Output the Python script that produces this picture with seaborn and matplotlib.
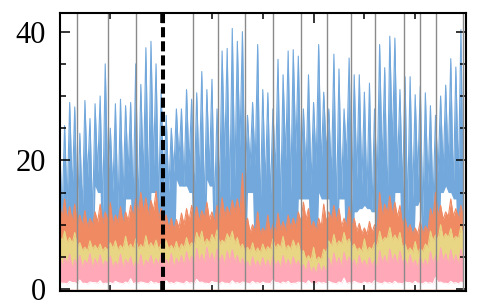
import numpy as np
import pandas as pd
import matplotlib
matplotlib.use("Agg")
import matplotlib.pyplot as plt
import seaborn as sns
from matplotlib.ticker import MultipleLocator

# ---- data ----
# time index: peaks at 100,110,...,890 ; troughs at 105,115,...,895
t_hi = list(range(100, 900, 10))
t_lo = list(range(105, 900, 10))

blue_hi = [24, 25.4, 29, 28.3, 24.2, 29.3, 26.5, 28.8, 30, 35,
           25, 28.8, 29.5, 28.5, 29, 35, 31.8, 37.5, 38.5, 35,
           31, 27, 25, 28, 28, 31, 29.5, 30.5, 33.8, 31,
           32.6, 28, 37, 37.4, 40.5, 38.5, 40, 27, 29, 38,
           31, 30.5, 28, 35.7, 33.3, 37, 37.2, 36.2, 28, 33.3,
           29, 38, 30.6, 28, 36.5, 34.2, 28, 35.9, 33.3, 33.3,
           30.6, 32, 28, 38, 34.4, 39.3, 39, 31, 33, 33,
           30.2, 31.5, 30.5, 28.5, 27, 30, 31.7, 35.8, 34.5, 40.3]
blue_lo = [11, 13, 15, 10, 12, 17, 11, 18, 12, 16,
           15, 12, 14, 18, 13, 12, 17, 14, 19, 13,
           16, 15, 18, 20, 16, 19, 14, 17, 13, 18,
           12, 15, 20, 14, 17, 22, 15, 19, 19, 12,
           16, 14, 18, 12, 20, 15, 21, 17, 18, 16,
           19, 19, 21, 17, 12, 15, 20, 13, 17, 16,
           14, 12, 16, 19, 13, 22, 18, 15, 12, 14,
           17, 11, 16, 13, 18, 18, 19, 15, 17, 11]
# lowest level the blue trace reaches around each peak (0 = hidden below the other traces)
blue_floor = [0, 0, 0, 0, 0, 0, 0, 16, 15, 0,
              0, 0, 0, 14, 14, 0, 0, 0, 15, 15,
              0, 0, 0, 17, 16, 16, 15, 0, 0, 17,
              16, 0, 0, 0, 0, 0, 0, 15, 15, 0,
              0, 0, 0, 0, 0, 0, 0, 14, 14, 14,
              0, 15, 14, 14, 0, 14, 14, 0, 12, 12.5,
              13, 12.5, 12, 0, 0, 0, 15, 15, 0, 0,
              13, 14, 0, 0, 0, 15, 16, 15, 14, 0]

orange_hi = [13.5, 14, 12.8, 13.2, 11.5, 12.2, 11, 12, 13.2, 12,
             13.4, 11.5, 12.8, 12, 13, 14, 15, 14.2, 13.8, 15.2,
             12.5, 11.5, 11, 10.8, 11.8, 12.5, 13, 12.8, 12.2, 13.5,
             12, 13, 14.2, 12.8, 13.8, 14, 18, 11, 10, 12,
             9.5, 11.5, 10, 11.8, 10.5, 11.5, 11, 12, 13.5, 12.5,
             10.5, 11, 13.2, 12, 13, 12.5, 11, 12.8, 11, 10.2,
             9.5, 10.5, 10, 15, 13.2, 14.5, 13.5, 13, 11, 10,
             9.5, 10.5, 9.8, 12.5, 15, 13, 12, 14, 12.5, 13]
orange_lo = [11, 10.8, 10.5, 10, 9.8, 9.6, 10, 10.4, 10.2, 10.6,
             10, 10.4, 10.1, 10.6, 11.2, 11.8, 12, 11.4, 12.2, 11,
             9.8, 9.4, 9.2, 9.5, 10, 10.6, 10.9, 10.5, 11, 10.8,
             10.4, 11, 11.3, 11.5, 12, 11.6, 9.8, 8.8, 8.9, 8.5,
             8.7, 8.6, 8.8, 9.2, 9, 9.4, 9.6, 10.4, 10.8, 9.5,
             9, 9.6, 10.4, 10.8, 10.5, 9.7, 9.8, 9.6, 9, 8.6,
             8.5, 8.8, 9.2, 11.4, 11.8, 11.6, 11.2, 9.9, 9, 8.5,
             8.6, 8.5, 9, 11, 11.4, 10.8, 11.2, 11.3, 10.9, 11]

yellow_hi = [8.5, 9, 8, 8.8, 7.2, 6.5, 7.5, 6.8, 7, 6.5,
             7.2, 7.5, 6.8, 8.2, 7, 7.8, 6.9, 8.3, 7.2, 7.6,
             7, 7.5, 6.8, 7.4, 7, 8, 7.2, 8.8, 9, 7.8,
             8.5, 9.2, 7.6, 8.6, 9, 8, 7, 6.5, 7.2, 6.4,
             7, 6.6, 7.8, 7, 8.2, 6.8, 7.6, 7.2, 6, 5.2,
             6.5, 5, 6.2, 7.5, 8.5, 7.5, 8.8, 7.8, 7, 6.4,
             7.8, 6.5, 7.2, 9, 8, 9.6, 8.4, 8.8, 7, 6.4,
             7.4, 6.3, 7, 9, 8.4, 10, 8.6, 9.4, 8.2, 9.8]
yellow_lo = [7.4, 7.2, 7.1, 6.6, 6, 5.9, 6.2, 6.1, 5.9, 6,
             6.3, 6, 6.2, 6.4, 6.1, 6.2, 6.3, 6.5, 6.4, 6.1,
             6, 6.2, 6.1, 6, 6.4, 6.6, 6.7, 7.6, 7, 7.1,
             7.5, 7, 7.2, 7.7, 7.1, 6.4, 5.9, 5.8, 5.7, 5.6,
             5.9, 6, 6.3, 6.4, 6.1, 6.2, 6.4, 5.4, 4.6, 4.4,
             4.4, 4.5, 5.6, 6.6, 6.8, 7, 7.2, 6.5, 6, 5.8,
             5.9, 6.1, 6.6, 7.4, 7.8, 7.6, 7.5, 6.4, 5.8, 5.7,
             5.6, 5.8, 6.5, 7.5, 7.7, 7.9, 8, 7.6, 7.8, 8]

pink_hi = [5.6, 5, 5.4, 4.6, 5.2, 4.5, 5.5, 4.7, 5.3, 4.4,
           5.1, 4.3, 5.4, 4.6, 5, 4.2, 5.3, 4.5, 5.2, 4.7,
           5.4, 4.6, 5.5, 4.8, 5.2, 5.8, 5.1, 6.3, 5.4, 6.5,
           5.6, 6.2, 5.3, 5.9, 6.1, 5.2, 4.8, 4.3, 5, 4.4,
           4.9, 4.5, 5.1, 4.4, 5.2, 4.6, 5, 4.4, 3.8, 4.4,
           3.4, 4, 3.6, 4.8, 5.6, 4.9, 5.7, 5, 4.6, 5.2,
           4.5, 4.9, 4.4, 6, 5.2, 6.2, 5.4, 5.9, 4.7, 5.3,
           4.5, 5.1, 4.6, 5.8, 5.2, 6.4, 5.5, 6.1, 5.3, 6.2]
pink_lo = [3.4, 3.9, 3.2, 3.7, 3.3, 3.8, 3.1, 3.6, 3.4, 3.9,
           3.2, 3.5, 3.1, 3.8, 3.3, 3.6, 3.2, 3.9, 3.4, 3.7,
           3.3, 3.6, 3.2, 3.8, 3.5, 4, 3.6, 4.2, 3.8, 4.3,
           3.9, 4.2, 3.7, 4.1, 4, 3.6, 3.4, 3.1, 3.5, 3.2,
           3.4, 3.1, 3.6, 3.2, 3.5, 3.3, 3.6, 3.1, 2.6, 2.4,
           2.3, 2.6, 2.5, 3.3, 3.7, 3.4, 3.9, 3.5, 3.2, 3.6,
           3.3, 3.5, 3.2, 4, 3.6, 4.2, 3.7, 4, 3.4, 3.7,
           3.2, 3.5, 3.3, 3.9, 3.6, 4.3, 3.8, 4.1, 3.7, 4.2]

base_hi = [1.1, 0.9, 1.2, 1, 1.4, 0.9, 1.1, 1, 1.3, 0.9,
           1, 1.2, 0.9, 1.1, 1.6, 1, 1.1, 0.9, 1.2, 1,
           0.9, 1.3, 1, 1.1, 0.9, 1.2, 1, 1.5, 1.1, 0.9,
           1.2, 1, 1.1, 0.9, 1.3, 1, 1.1, 0.9, 1.2, 1,
           1.1, 0.9, 1.4, 1, 1.1, 1.2, 0.9, 1.1, 1, 1.3,
           0.9, 1.1, 1, 1.2, 0.9, 1.1, 1.7, 1, 1.2, 0.9,
           1.1, 1, 1.3, 0.9, 1.1, 1, 1.2, 0.9, 1.1, 1,
           1.2, 0.9, 1.1, 1, 1.8, 1.1, 0.9, 1.2, 1, 1.1]
base_lo = [0.9, 0.8, 1.0, 0.8, 0.9, 0.8, 1.0, 0.9, 0.8, 0.9,
           0.8, 1.0, 0.8, 0.9, 0.8, 0.9, 1.0, 0.8, 0.9, 0.8,
           0.8, 0.9, 0.8, 1.0, 0.8, 0.9, 0.8, 1.0, 0.9, 0.8,
           1.0, 0.8, 0.9, 0.8, 0.9, 0.8, 1.0, 0.8, 0.9, 0.8,
           0.9, 0.8, 1.0, 0.8, 0.9, 0.8, 0.9, 1.0, 0.8, 0.9,
           0.8, 0.9, 0.8, 1.0, 0.8, 0.9, 0.8, 0.9, 1.0, 0.8,
           0.9, 0.8, 1.0, 0.8, 0.9, 0.8, 0.9, 0.8, 1.0, 0.8,
           0.9, 0.8, 0.9, 0.8, 1.0, 0.9, 0.8, 0.9, 0.8, 0.9]

boundaries = [134, 196, 250, 362, 412, 465, 521, 575, 626, 673, 720, 777, 810, 841, 895]
split_at = 304

zero = [0] * len(t_hi)
series = [("blue", blue_hi, blue_lo, blue_floor, "#72a8dc"),
          ("orange", orange_hi, orange_lo, zero, "#ef8a63"),
          ("yellow", yellow_hi, yellow_lo, zero, "#e8d684"),
          ("pink", pink_hi, pink_lo, zero, "#fea8b8"),
          ("base", base_hi, base_lo, zero, "#ffffff")]


def interleave(a, b):
    out = np.empty(len(a) + len(b))
    out[0::2] = a
    out[1::2] = b
    return out


# ---- figure ----
plt.rcParams['font.family'] = ['Liberation Serif', 'DejaVu Serif']
fig = plt.figure(figsize=(4.79, 3.04), dpi=100)
ax = fig.add_axes([59.5 / 479, 13 / 304, (466 - 59.5) / 479, (291 - 13) / 304])

t = interleave(t_hi, t_lo)
for z, (name, hi, lo, floor, col) in enumerate(series):
    y = interleave(hi, lo)
    f_hi = np.asarray(floor, dtype=float)
    f_lo = np.minimum(f_hi, np.append(f_hi[1:], f_hi[-1]))
    fl = interleave(f_hi, f_lo)
    df = pd.DataFrame({"t": t, "v": y, "floor": fl})
    ax.fill_between(df["t"], df["v"], df["floor"], color=col, lw=0, zorder=1 + z * 0.1)
    sns.lineplot(data=df, x="t", y="v", ax=ax, color=col, linewidth=0.8,
                 estimator=None, sort=False, legend=False, zorder=1.05 + z * 0.1)

for b in boundaries:
    ax.axvline(b, color="#8a8a8a", lw=1.0, zorder=5)
ax.axvline(split_at, color="black", lw=2.9, dashes=(2.5, 1.0), zorder=6)

ax.set_xlim(100, 900)
ax.set_ylim(-0.3, 42.9)
ax.xaxis.set_major_locator(MultipleLocator(300))
ax.xaxis.set_minor_locator(MultipleLocator(100))
ax.yaxis.set_major_locator(MultipleLocator(20))
ax.yaxis.set_minor_locator(MultipleLocator(5))
ax.tick_params(which="both", direction="in", top=True, right=True,
               labelbottom=False, width=1.1)
ax.tick_params(which="major", length=7.5)
ax.tick_params(which="minor", length=4)
ax.tick_params(axis="y", labelsize=22, pad=10)
ax.set_xlabel("")
ax.set_ylabel("")
for s in ax.spines.values():
    s.set_linewidth(1.5)
    s.set_zorder(10)

fig.savefig("out.png", dpi=100)
